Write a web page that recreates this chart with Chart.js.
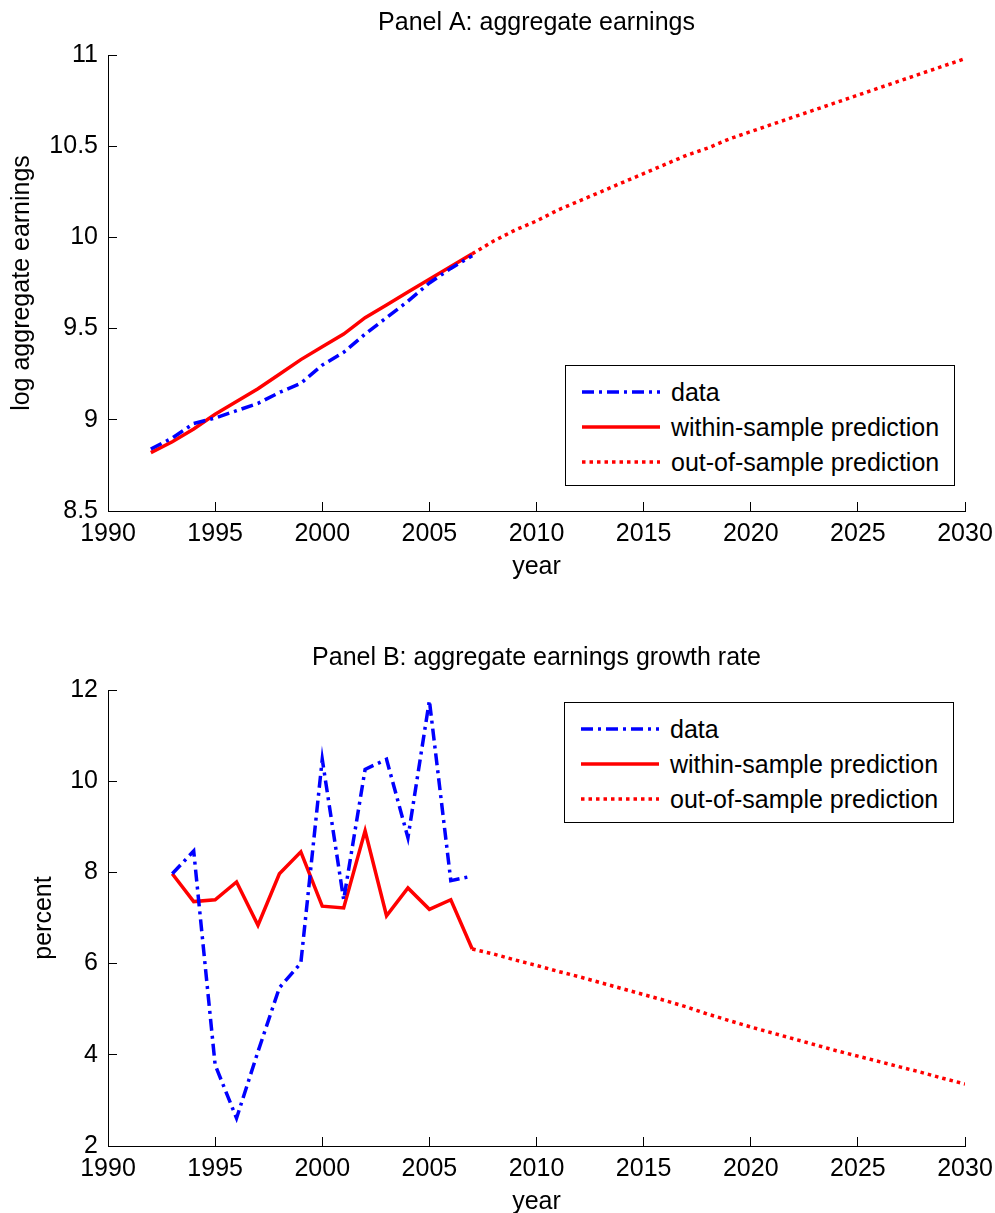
<!DOCTYPE html>
<html>
<head>
<meta charset="utf-8">
<title>Aggregate earnings</title>
<script src="https://cdn.jsdelivr.net/npm/chart.js@4.4.1/dist/chart.umd.min.js"></script>
<style>
  html, body { margin: 0; padding: 0; background: #fff; overflow: hidden; }
  #page { position: relative; width: 995px; height: 1213px; }
  .panel { position: absolute; left: 0; }
  canvas { display: block; }
  .legend {
    position: absolute; box-sizing: border-box; width: 390px; height: 121px;
    border: 1px solid #000; background: #fff;
    font-family: "Liberation Sans", Arial, sans-serif; font-size: 25px; color: #000;
  }
  .legend .row { position: absolute; left: 0; width: 100%; height: 30px; line-height: 30px; }
  .legend svg { position: absolute; left: 16px; top: 0; }
  .legend span { position: absolute; left: 105px; top: 0; white-space: nowrap; }
</style>
</head>
<body>
<div id="page">
  <div class="panel" style="top:0"><canvas id="panelA" width="995" height="633"></canvas></div>
  <div class="panel" style="top:635px"><canvas id="panelB" width="995" height="633"></canvas></div>
  <div class="legend" id="legendA" style="left:565px; top:365px"></div>
  <div class="legend" id="legendB" style="left:564px; top:702px"></div>
</div>
<script>
// ---- data ----
const xTicks = [1990, 1995, 2000, 2005, 2010, 2015, 2020, 2025, 2030];

// Panel A: log aggregate earnings
const yearsA = [1992, 1993, 1994, 1995, 1996, 1997, 1998, 1999, 2000, 2001, 2002, 2003, 2004, 2005, 2006, 2007];
const dataA = [8.84, 8.90, 8.98, 9.01, 9.05, 9.09, 9.15, 9.20, 9.30, 9.37, 9.47, 9.56, 9.65, 9.75, 9.83, 9.90];
const withinA = [8.82, 8.88, 8.95, 9.03, 9.10, 9.17, 9.25, 9.33, 9.40, 9.47, 9.56, 9.63, 9.70, 9.77, 9.84, 9.91];
const yTicksA = [8.5, 9, 9.5, 10, 10.5, 11];

// Panel B: growth rate, percent
const yearsB = [1993, 1994, 1995, 1996, 1997, 1998, 1999, 2000, 2001, 2002, 2003, 2004, 2005, 2006, 2007];
const dataB = [7.97, 8.47, 3.78, 2.61, 4.07, 5.47, 6.01, 10.48, 7.40, 10.26, 10.48, 8.76, 11.77, 7.82, 7.92];
const withinB = [7.97, 7.36, 7.40, 7.79, 6.84, 7.97, 8.45, 7.26, 7.22, 8.91, 7.05, 7.66, 7.19, 7.40, 6.32];
const yTicksB = [2, 4, 6, 8, 10, 12];

// out-of-sample projections (both panels)
const yearsOut = [2007, 2008, 2009, 2010, 2011, 2012, 2013, 2014, 2015, 2016, 2017, 2018,
                  2019, 2020, 2021, 2022, 2023, 2024, 2025, 2026, 2027, 2028, 2029, 2030];
const outA = [9.91, 9.98, 10.04, 10.09, 10.15, 10.20, 10.25, 10.30, 10.35, 10.40, 10.45, 10.49,
              10.54, 10.58, 10.62, 10.66, 10.70, 10.74, 10.78, 10.82, 10.86, 10.90, 10.94, 10.98];
const outB = [6.32, 6.21, 6.08, 5.96, 5.83, 5.71, 5.58, 5.45, 5.32, 5.19, 5.05, 4.89,
              4.75, 4.61, 4.48, 4.35, 4.22, 4.09, 3.97, 3.85, 3.73, 3.61, 3.48, 3.36];

const BLUE = '#0000ff';
const RED = '#ff0000';

Chart.defaults.font.family = '"Liberation Sans", Arial, sans-serif';
Chart.defaults.font.size = 25;
Chart.defaults.color = '#000';

function toPoints(xs, ys) {
  return xs.map((x, i) => ({ x: x, y: ys[i] }));
}

// legend box as html, filled from the chart's datasets
const htmlLegend = {
  id: 'htmlLegend',
  afterUpdate(chart, args, opts) {
    const box = document.getElementById(opts.containerID);
    if (!box) return;
    box.innerHTML = '';
    chart.data.datasets.forEach((ds, i) => {
      const row = document.createElement('div');
      row.className = 'row';
      row.style.top = (opts.firstRow + i * opts.rowGap - 15) + 'px';
      const dash = (ds.borderDash || []).join(' ');
      row.innerHTML =
        '<svg width="80" height="30"><line x1="0" y1="15" x2="78" y2="15" stroke="' + ds.borderColor +
        '" stroke-width="' + ds.borderWidth + '" stroke-dasharray="' + dash + '"/></svg>' +
        '<span>' + ds.label + '</span>';
      box.appendChild(row);
    });
  }
};

function makePanel(canvasId, cfg) {
  return new Chart(document.getElementById(canvasId), {
    type: 'line',
    data: {
      datasets: [{
        label: 'data',
        data: toPoints(cfg.years, cfg.data),
        borderColor: BLUE,
        borderWidth: 3.5,
        borderDash: [12, 5, 3, 5],
        xAxisID: 'x', yAxisID: 'y'
      }, {
        label: 'within-sample prediction',
        data: toPoints(cfg.years, cfg.within),
        borderColor: RED,
        borderWidth: 3.5,
        xAxisID: 'x', yAxisID: 'y'
      }, {
        label: 'out-of-sample prediction',
        data: toPoints(yearsOut, cfg.out),
        borderColor: RED,
        borderWidth: 3.5,
        borderDash: [3.5, 4],
        xAxisID: 'x', yAxisID: 'y'
      }]
    },
    options: {
      responsive: false,
      animation: false,
      devicePixelRatio: 1,
      layout: { padding: { left: 0, right: 30, top: 0, bottom: 0 } },
      elements: {
        point: { radius: 0 },
        line: { tension: 0, fill: false, borderCapStyle: 'butt', borderJoinStyle: 'miter' }
      },
      plugins: {
        legend: { display: false },
        tooltip: { enabled: false },
        htmlLegend: { containerID: cfg.legendId, firstRow: 26, rowGap: 35 }
      },
      scales: {
        x: {
          type: 'linear',
          position: 'bottom',
          min: 1990,
          max: 2030,
          afterBuildTicks: s => { s.ticks = xTicks.map(v => ({ value: v })); },
          // fixed axis height; labels may hang past the plot edges
          afterFit: s => { s.height = 122; s.paddingLeft = 0; s.paddingRight = 0; },
          ticks: { padding: 17, autoSkip: false, maxRotation: 0, callback: v => String(v) },
          grid: { drawOnChartArea: false, drawTicks: true, tickLength: -9, color: '#000' },
          border: { display: true, color: '#000', width: 1 },
          title: { display: true, text: 'year', padding: { top: 0, bottom: 51 } }
        },
        y: {
          type: 'linear',
          position: 'left',
          min: cfg.yTicks[0],
          max: cfg.yTicks[cfg.yTicks.length - 1],
          afterBuildTicks: s => { s.ticks = cfg.yTicks.map(v => ({ value: v })); },
          afterFit: s => { s.width = 108; s.paddingTop = 0; s.paddingBottom = 0; },
          ticks: { padding: 19, callback: v => String(v) },
          grid: { drawOnChartArea: false, drawTicks: true, tickLength: -9, color: '#000' },
          border: { display: true, color: '#000', width: 1 },
          title: { display: true, text: cfg.yTitle, padding: { top: cfg.yTitlePad, bottom: 0 } }
        },
        // empty top axis that only carries the panel title, centred over the plot
        t: {
          type: 'linear',
          position: 'top',
          afterFit: s => { s.height = 55; s.paddingLeft = 0; s.paddingRight = 0; },
          ticks: { display: false },
          grid: { display: false },
          border: { display: false },
          title: { display: true, text: cfg.title, padding: { top: 8, bottom: 0 } }
        }
      }
    },
    plugins: [htmlLegend]
  });
}

makePanel('panelA', {
  title: 'Panel A: aggregate earnings',
  yTitle: 'log aggregate earnings',
  yTitlePad: 7,
  years: yearsA, data: dataA, within: withinA, out: outA,
  yTicks: yTicksA,
  legendId: 'legendA'
});

makePanel('panelB', {
  title: 'Panel B: aggregate earnings growth rate',
  yTitle: 'percent',
  yTitlePad: 29,
  years: yearsB, data: dataB, within: withinB, out: outB,
  yTicks: yTicksB,
  legendId: 'legendB'
});
</script>
</body>
</html>
